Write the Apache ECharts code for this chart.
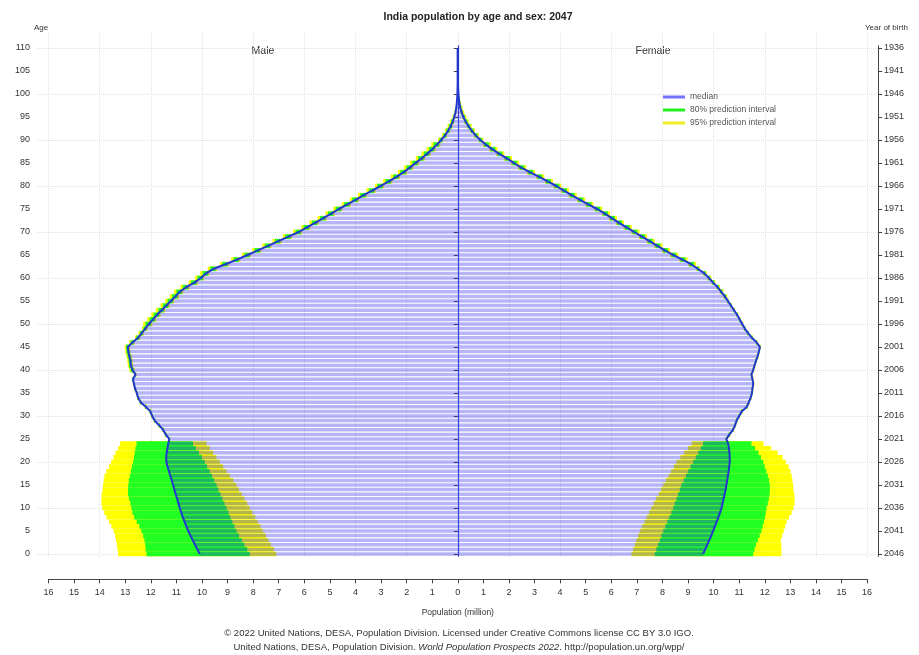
<!DOCTYPE html>
<html>
<head>
<meta charset="utf-8">
<script src="https://cdn.jsdelivr.net/npm/echarts@6/dist/echarts.min.js"></script>
<style>html,body{margin:0;padding:0;background:#fff;}#c{width:919px;height:655px;}</style>
</head>
<body>
<div id="c"></div>
<script>
// ---------------- DATA (millions) ----------------
const ages = Array.from({length: 111}, (_, i) => String(i));
const birthYearLabels = ['2046','2041','2036','2031','2026','2021','2016','2011','2006','2001','1996','1991','1986','1981','1976','1971','1966','1961','1956','1951','1946','1941','1936'];
const xTickValues = [-16,-15,-14,-13,-12,-11,-10,-9,-8,-7,-6,-5,-4,-3,-2,-1,0,1,2,3,4,5,6,7,8,9,10,11,12,13,14,15,16];

const maleMedian = [
 10.09,10.18,10.27,10.36,10.45,10.54,10.61,10.68,10.75,10.81,
 10.87,10.92,10.97,11.03,11.08,11.13,11.18,11.24,11.29,11.35,
 11.39,11.40,11.38,11.35,11.32,11.28,11.42,11.52,11.68,11.85,
 11.95,12.02,12.20,12.40,12.50,12.55,12.62,12.66,12.70,12.60,
 12.72,12.78,12.80,12.84,12.88,12.90,12.72,12.50,12.36,12.22,
 12.08,11.92,11.76,11.58,11.40,11.22,11.04,10.87,10.62,10.30,
 10.05,9.85,9.55,9.08,8.64,8.22,7.82,7.42,7.02,6.62,
 6.22,5.90,5.58,5.26,4.95,4.65,4.32,4.00,3.68,3.35,
 3.02,2.70,2.40,2.12,1.88,1.65,1.42,1.20,1.00,0.82,
 0.65,0.50,0.38,0.28,0.20,0.14,0.09,0.06,0.04,0.025,
 0.015,0.01,0.007,0.005,0.003,0.002,0.001,0.001,0.001,0.001,0.001];
const maleLo95 = [
 7.09,7.19,7.30,7.40,7.50,7.61,7.71,7.82,7.92,8.03,
 8.13,8.23,8.34,8.44,8.55,8.65,8.78,8.91,9.04,9.17,
 9.30,9.43,9.56,9.69,9.82,11.24,11.38,11.48,11.64,11.81,
 11.91,11.98,12.16,12.36,12.46,12.51,12.58,12.62,12.66,12.56,
 12.63,12.69,12.71,12.75,12.79,12.81,12.63,12.41,12.27,12.13,
 11.94,11.78,11.62,11.44,11.26,11.08,10.90,10.73,10.48,10.16,
 9.91,9.71,9.41,8.94,8.50,8.08,7.68,7.28,6.88,6.48,
 6.08,5.76,5.44,5.12,4.81,4.51,4.18,3.86,3.54,3.21,
 2.88,2.56,2.26,1.98,1.74,1.51,1.28,1.06,0.86,0.68,
 0.57,0.42,0.30,0.20,0.14,0.10,0.06,0.04,0.03,0.02,
 0.015,0.01,0.007,0.005,0.003,0.002,0.001,0.001,0.001,0.001,0.001];
const maleLo80 = [
 8.13,8.23,8.34,8.44,8.55,8.65,8.73,8.81,8.89,8.96,
 9.04,9.12,9.20,9.28,9.36,9.43,9.52,9.61,9.70,9.80,
 9.89,10.00,10.12,10.24,10.35,11.26,11.40,11.50,11.66,11.83,
 11.93,12.00,12.18,12.38,12.48,12.53,12.60,12.64,12.68,12.58,
 12.67,12.73,12.75,12.79,12.83,12.85,12.67,12.45,12.31,12.17,
 12.00,11.84,11.68,11.50,11.32,11.14,10.96,10.79,10.54,10.22,
 9.97,9.77,9.47,9.00,8.56,8.14,7.74,7.34,6.94,6.54,
 6.14,5.82,5.50,5.18,4.87,4.57,4.24,3.92,3.60,3.27,
 2.94,2.62,2.32,2.04,1.80,1.57,1.34,1.12,0.92,0.74,
 0.60,0.45,0.33,0.23,0.16,0.11,0.07,0.05,0.03,0.02,
 0.015,0.01,0.007,0.005,0.003,0.002,0.001,0.001,0.001,0.001,0.001];
const maleHi80 = [
 12.17,12.20,12.22,12.25,12.30,12.37,12.45,12.55,12.65,12.72,
 12.76,12.80,12.85,12.89,12.89,12.88,12.86,12.82,12.78,12.74,
 12.69,12.66,12.63,12.60,12.56,11.30,11.44,11.54,11.70,11.87,
 11.97,12.04,12.22,12.42,12.52,12.57,12.64,12.68,12.72,12.62,
 12.79,12.85,12.87,12.91,12.95,12.97,12.79,12.57,12.43,12.29,
 12.21,12.05,11.89,11.71,11.53,11.35,11.17,11.00,10.75,10.43,
 10.18,9.98,9.68,9.21,8.77,8.35,7.95,7.55,7.15,6.75,
 6.35,6.03,5.71,5.39,5.08,4.78,4.45,4.13,3.81,3.48,
 3.15,2.83,2.53,2.25,2.01,1.78,1.55,1.33,1.13,0.95,
 0.72,0.57,0.45,0.35,0.26,0.18,0.12,0.08,0.05,0.03,
 0.015,0.01,0.007,0.005,0.003,0.002,0.001,0.001,0.001,0.001,0.001];
const maleHi95 = [
 13.28,13.30,13.33,13.36,13.40,13.45,13.54,13.63,13.73,13.82,
 13.90,13.93,13.93,13.92,13.89,13.87,13.84,13.81,13.74,13.63,
 13.55,13.46,13.38,13.28,13.20,11.32,11.46,11.56,11.72,11.89,
 11.99,12.06,12.24,12.44,12.54,12.59,12.66,12.70,12.74,12.64,
 12.84,12.90,12.92,12.96,13.00,13.02,12.84,12.62,12.48,12.34,
 12.30,12.14,11.98,11.80,11.62,11.44,11.26,11.09,10.84,10.52,
 10.27,10.07,9.77,9.30,8.86,8.44,8.04,7.64,7.24,6.84,
 6.44,6.12,5.80,5.48,5.17,4.87,4.54,4.22,3.90,3.57,
 3.24,2.92,2.62,2.34,2.10,1.87,1.64,1.42,1.22,1.04,
 0.77,0.62,0.50,0.40,0.30,0.21,0.14,0.09,0.06,0.035,
 0.015,0.01,0.007,0.005,0.003,0.002,0.001,0.001,0.001,0.001,0.001];

const femaleMedian = [
 9.59,9.67,9.75,9.83,9.91,9.98,10.05,10.12,10.19,10.25,
 10.31,10.35,10.39,10.43,10.47,10.50,10.53,10.56,10.59,10.61,
 10.63,10.63,10.62,10.60,10.57,10.50,10.62,10.76,10.84,10.90,
 11.00,11.10,11.30,11.38,11.45,11.50,11.52,11.55,11.52,11.48,
 11.55,11.60,11.66,11.72,11.77,11.81,11.68,11.50,11.35,11.22,
 11.12,11.02,10.92,10.80,10.68,10.56,10.44,10.30,10.16,9.98,
 9.82,9.64,9.38,9.12,8.78,8.42,8.10,7.80,7.50,7.20,
 6.90,6.60,6.30,6.02,5.75,5.45,5.10,4.78,4.45,4.15,
 3.85,3.52,3.18,2.82,2.48,2.20,1.92,1.62,1.35,1.10,
 0.88,0.70,0.55,0.42,0.31,0.22,0.15,0.10,0.065,0.04,
 0.025,0.015,0.01,0.006,0.004,0.002,0.001,0.001,0.001,0.001,0.001];
const femaleLo95 = [
 6.79,6.85,6.92,6.99,7.05,7.12,7.21,7.30,7.39,7.48,
 7.57,7.66,7.75,7.85,7.94,8.03,8.13,8.24,8.34,8.45,
 8.55,8.70,8.85,9.00,9.14,10.46,10.58,10.72,10.80,10.86,
 10.96,11.06,11.26,11.34,11.41,11.46,11.48,11.51,11.48,11.44,
 11.51,11.56,11.62,11.68,11.73,11.77,11.64,11.46,11.31,11.18,
 11.08,10.98,10.88,10.76,10.64,10.52,10.38,10.24,10.10,9.92,
 9.76,9.58,9.32,9.00,8.66,8.30,7.98,7.68,7.38,7.08,
 6.78,6.48,6.18,5.90,5.63,5.33,4.98,4.66,4.33,4.03,
 3.73,3.40,3.06,2.70,2.36,2.08,1.80,1.50,1.23,0.98,
 0.81,0.63,0.48,0.35,0.25,0.17,0.11,0.07,0.045,0.03,
 0.025,0.015,0.01,0.006,0.004,0.002,0.001,0.001,0.001,0.001,0.001];
const femaleLo80 = [
 7.70,7.76,7.83,7.90,7.96,8.03,8.11,8.19,8.27,8.35,
 8.42,8.48,8.55,8.61,8.68,8.74,8.83,8.92,9.01,9.10,
 9.20,9.30,9.40,9.50,9.59,10.48,10.60,10.74,10.82,10.88,
 10.98,11.08,11.28,11.36,11.43,11.48,11.50,11.53,11.50,11.46,
 11.53,11.58,11.64,11.70,11.75,11.79,11.66,11.48,11.33,11.20,
 11.10,11.00,10.90,10.78,10.66,10.54,10.41,10.27,10.13,9.95,
 9.79,9.61,9.35,9.05,8.71,8.35,8.03,7.73,7.43,7.13,
 6.83,6.53,6.23,5.95,5.68,5.38,5.03,4.71,4.38,4.08,
 3.78,3.45,3.11,2.75,2.41,2.13,1.85,1.55,1.28,1.03,
 0.84,0.66,0.51,0.38,0.27,0.19,0.12,0.08,0.05,0.03,
 0.025,0.015,0.01,0.006,0.004,0.002,0.001,0.001,0.001,0.001,0.001];
const femaleHi80 = [
 11.55,11.60,11.66,11.73,11.80,11.87,11.92,11.97,12.01,12.04,
 12.07,12.12,12.16,12.19,12.20,12.20,12.17,12.12,12.06,12.00,
 11.94,11.85,11.75,11.62,11.48,10.52,10.64,10.78,10.86,10.92,
 11.02,11.12,11.32,11.40,11.47,11.52,11.54,11.57,11.54,11.50,
 11.57,11.62,11.68,11.74,11.79,11.83,11.70,11.52,11.37,11.24,
 11.14,11.04,10.94,10.82,10.70,10.58,10.49,10.35,10.21,10.03,
 9.87,9.69,9.43,9.24,8.90,8.54,8.22,7.92,7.62,7.32,
 7.02,6.72,6.42,6.14,5.87,5.57,5.22,4.90,4.57,4.27,
 3.97,3.64,3.30,2.94,2.60,2.32,2.04,1.74,1.47,1.22,
 0.95,0.77,0.62,0.49,0.38,0.28,0.20,0.14,0.10,0.07,
 0.025,0.015,0.01,0.006,0.004,0.002,0.001,0.001,0.001,0.001,0.001];
const femaleHi95 = [
 12.65,12.65,12.64,12.63,12.68,12.74,12.80,12.86,12.95,13.05,
 13.12,13.16,13.17,13.15,13.12,13.11,13.08,13.05,13.00,12.93,
 12.82,12.70,12.50,12.25,11.95,10.54,10.66,10.80,10.88,10.94,
 11.04,11.14,11.34,11.42,11.49,11.54,11.56,11.59,11.56,11.52,
 11.59,11.64,11.70,11.76,11.81,11.85,11.72,11.54,11.39,11.26,
 11.16,11.06,10.96,10.84,10.72,10.60,10.53,10.39,10.25,10.07,
 9.91,9.73,9.47,9.32,8.98,8.62,8.30,8.00,7.70,7.40,
 7.10,6.80,6.50,6.22,5.95,5.65,5.30,4.98,4.65,4.35,
 4.05,3.72,3.38,3.02,2.68,2.40,2.12,1.82,1.55,1.30,
 1.00,0.82,0.67,0.54,0.43,0.33,0.25,0.18,0.13,0.09,
 0.025,0.015,0.01,0.006,0.004,0.002,0.001,0.001,0.001,0.001,0.001];

// ---------------- CHART ----------------
const FONT = '"Liberation Sans", Arial, Helvetica, sans-serif';
const chart = echarts.init(document.getElementById('c'), null, {renderer: 'canvas'});

const neg = a => a.map(v => -v);
const span = (lo, hi, sign) => hi.map((v, i) => sign * (v - lo[i]));

const YELLOW = '#ffff00';
const GREEN = '#22ff22';
const MEDIAN_FILL = 'rgba(30,30,235,0.33)';
const MEDIAN_LINE = '#2336d0';

function intervalPair(stackId, lo, hi, sign, name, color) {
  return [
    {type: 'bar', name: 'base_' + stackId, stack: stackId, xAxisIndex: 0, yAxisIndex: 0,
     data: lo.map(v => sign * v), itemStyle: {color: 'rgba(0,0,0,0)'}, silent: true,
     barCategoryGap: '0%', barGap: '-100%', emphasis: {disabled: true}},
    {type: 'bar', name: name, stack: stackId, xAxisIndex: 0, yAxisIndex: 0,
     data: span(lo, hi, sign), itemStyle: {color: color}, silent: true,
     barCategoryGap: '0%', barGap: '-100%', emphasis: {disabled: true}}
  ];
}

const series = [].concat(
  intervalPair('m95', maleLo95, maleHi95, -1, '95% prediction interval', YELLOW),
  intervalPair('f95', femaleLo95, femaleHi95, 1, '95% prediction interval', YELLOW),
  intervalPair('m80', maleLo80, maleHi80, -1, '80% prediction interval', GREEN),
  intervalPair('f80', femaleLo80, femaleHi80, 1, '80% prediction interval', GREEN),
  [
    {type: 'bar', name: 'median', xAxisIndex: 0, yAxisIndex: 1, data: neg(maleMedian),
     itemStyle: {color: MEDIAN_FILL}, barCategoryGap: '24%', barGap: '-100%', silent: true, emphasis: {disabled: true}},
    {type: 'bar', name: 'median', xAxisIndex: 0, yAxisIndex: 1, data: femaleMedian,
     itemStyle: {color: MEDIAN_FILL}, barCategoryGap: '24%', barGap: '-100%', silent: true, emphasis: {disabled: true}},
    {type: 'line', name: 'median_line_m', xAxisIndex: 0, yAxisIndex: 0, data: neg(maleMedian),
     symbol: 'none', lineStyle: {color: MEDIAN_LINE, width: 2}, z: 5, silent: true},
    {type: 'line', name: 'median_line_f', xAxisIndex: 0, yAxisIndex: 0, data: femaleMedian,
     symbol: 'none', lineStyle: {color: MEDIAN_LINE, width: 2}, z: 5, silent: true,
     markLine: {silent: true, symbol: ['none', 'none'], label: {show: false},
       lineStyle: {color: '#3440d8', width: 1.2, type: 'solid'}, data: [{xAxis: 0}]}}
  ]
);

const axisCol = '#444';
const option = {
  animation: false,
  textStyle: {fontFamily: FONT},
  title: {
    text: 'India population by age and sex: 2047',
    left: 473, top: 7, textAlign: 'center',
    textStyle: {fontSize: 10.5, fontWeight: 'bold', color: '#222', fontFamily: FONT}
  },
  legend: {
    left: 658, top: 87, orient: 'vertical', selectedMode: false,
    itemWidth: 22, itemHeight: 3, itemGap: 3, icon: 'rect',
    textStyle: {fontSize: 8.5, color: '#555', lineHeight: 10, fontFamily: FONT},
    data: [
      {name: 'median', itemStyle: {color: '#7373ff'}},
      {name: '80% prediction interval', itemStyle: {color: '#22ee22'}},
      {name: '95% prediction interval', itemStyle: {color: '#eeee22'}}
    ]
  },
  grid: [
    {left: 48.5, right: 51.9, top: 45.7, height: 510.6},
    {left: 37, right: 41, top: 48, height: 506},
    {left: 48.5, right: 51.9, top: 32, height: 525}
  ],
  xAxis: [
    {gridIndex: 0, type: 'value', min: xTickValues[0], max: xTickValues[xTickValues.length - 1], interval: 1,
     position: 'bottom', offset: 23,
     axisLine: {show: true, lineStyle: {color: axisCol}},
     axisTick: {show: true, length: 4, lineStyle: {color: axisCol}},
     axisLabel: {formatter: v => String(Math.abs(v)), fontSize: 9, color: '#333', margin: 9,
                 showMinLabel: true, showMaxLabel: true, hideOverlap: false},
     splitLine: {show: false},
     name: 'Population (million)', nameLocation: 'middle', nameGap: 29,
     nameTextStyle: {fontSize: 8.5, color: '#333'}},
    {gridIndex: 1, type: 'value', min: -16, max: 16, show: false},
    {gridIndex: 2, type: 'value', min: -16, max: 16, interval: 2,
     axisLine: {show: false}, axisTick: {show: false}, axisLabel: {show: false},
     splitLine: {show: true, lineStyle: {color: '#e2e2e2', type: 'dotted', width: 1}}}
  ],
  yAxis: [
    {gridIndex: 0, type: 'category', data: ages, position: 'left', offset: 11.5,
     axisLine: {show: true, lineStyle: {color: axisCol}},
     axisTick: {show: true, interval: 4, alignWithLabel: true, length: 4, lineStyle: {color: axisCol}},
     axisLabel: {interval: 4, fontSize: 9, color: '#333', margin: 7},
     splitLine: {show: false}},
    {gridIndex: 0, type: 'category', data: ages, position: 'right', offset: 11,
     axisLine: {show: true, lineStyle: {color: axisCol}},
     axisTick: {show: true, interval: 4, alignWithLabel: true, length: 4, lineStyle: {color: axisCol}},
     axisLabel: {interval: 4, fontSize: 9, color: '#333', margin: 6,
                 formatter: (v, i) => birthYearLabels[Math.round(i / 5)]},
     splitLine: {show: false}},
    {gridIndex: 1, type: 'value', min: 0, max: 110, interval: 10,
     axisLine: {show: false}, axisTick: {show: false}, axisLabel: {show: false},
     splitLine: {show: true, lineStyle: {color: '#e2e2e2', type: 'dotted', width: 1}}},
    {gridIndex: 2, type: 'value', min: 0, max: 1, show: false}
  ],
  graphic: [
    {type: 'text', x: 34, y: 28, style: {text: 'Age', font: '8px ' + FONT, fill: '#333', textVerticalAlign: 'middle'}},
    {type: 'text', x: 865, y: 28, style: {text: 'Year of birth', font: '8px ' + FONT, fill: '#333', textVerticalAlign: 'middle'}},
    {type: 'text', x: 263, y: 51, style: {text: 'Male', font: '10.5px ' + FONT, fill: '#333', textAlign: 'center', textVerticalAlign: 'middle'}},
    {type: 'text', x: 653, y: 51, style: {text: 'Female', font: '10.5px ' + FONT, fill: '#333', textAlign: 'center', textVerticalAlign: 'middle'}},
    {type: 'text', x: 459, y: 633, style: {
      text: '\u00A9 2022 United Nations, DESA, Population Division. Licensed under Creative Commons license CC BY 3.0 IGO.',
      font: '9.5px ' + FONT, fill: '#333', textAlign: 'center', textVerticalAlign: 'middle'}},
    {type: 'text', x: 459, y: 647, style: {
      text: '{n|United Nations, DESA, Population Division. }{i|World Population Prospects 2022}{n|. http://population.un.org/wpp/}',
      textAlign: 'center', textVerticalAlign: 'middle', fill: '#333', font: '9.5px ' + FONT,
      rich: {
        n: {fontSize: 9.5, fontFamily: FONT, fill: '#333'},
        i: {fontSize: 9.5, fontFamily: FONT, fontStyle: 'italic', fill: '#333'}
      }}}
  ],
  series: series
};
chart.setOption(option);
</script>
</body>
</html>
